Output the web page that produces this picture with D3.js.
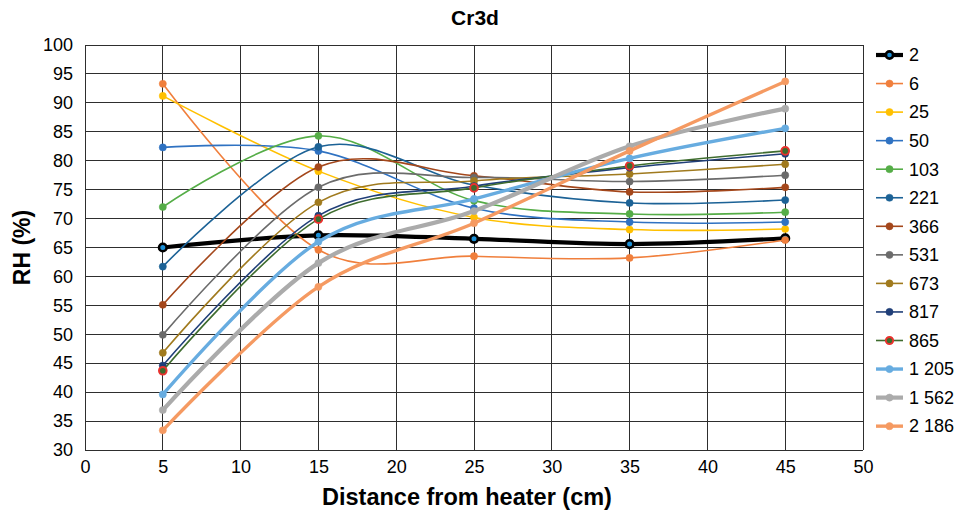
<!DOCTYPE html>
<html>
<head>
<meta charset="utf-8">
<style>
  body { margin: 0; background: #fff; font-family: "Liberation Sans", Arial, sans-serif; }
  svg { display: block; }
</style>
</head>
<body>
<svg id="chart" width="960" height="515"></svg>
<script src="https://cdn.jsdelivr.net/npm/d3@7"></script>
<script>
// data
var distances = [5, 15, 25, 35, 45];
var seriesNames = ["2", "6", "25", "50", "103", "221", "366", "531", "673", "817", "865", "1 205", "1 562", "2 186"];
var rh2    = [65.0, 67.1, 66.5, 65.6, 66.6];
var rh6    = [93.3, 64.6, 63.5, 63.2, 66.3];
var rh25   = [91.2, 78.2, 70.2, 68.1, 68.2];
var rh50   = [82.3, 81.7, 71.8, 69.4, 69.4];
var rh103  = [72.0, 84.3, 73.1, 70.8, 71.1];
var rh221  = [61.7, 82.4, 75.8, 72.7, 73.2];
var rh366  = [55.1, 78.9, 77.4, 74.6, 75.4];
var rh531  = [49.9, 75.4, 77.1, 76.4, 77.5];
var rh673  = [46.8, 72.8, 76.5, 77.7, 79.4];
var rh817  = [44.6, 70.5, 75.6, 78.8, 81.2];
var rh865  = [43.7, 69.9, 75.3, 79.1, 81.7];
var rh1205 = [39.6, 66.0, 73.4, 80.4, 85.6];
var rh1562 = [36.9, 62.3, 71.3, 82.5, 89.0];
var rh2186 = [33.4, 58.2, 69.2, 81.7, 93.7];
var xTicks = d3.range(0, 55, 5);
var yTicks = d3.range(30, 105, 5);

var allValues = [rh2, rh6, rh25, rh50, rh103, rh221, rh366, rh531, rh673, rh817, rh865, rh1205, rh1562, rh2186];

// styles per series (line colour, marker fill, marker stroke, line width)
var lineColors = ["#000000", "#F07F3C", "#FFC000", "#2F72C2", "#55AD47", "#1C6296", "#A4471B", "#6B6B6B", "#A07A1E", "#203F78", "#3E6C2E", "#67ACE0", "#ABABAB", "#F59A62"];
var markerFill = lineColors.slice();
markerFill[0] = "#1B8FD6";
var markerStroke = lineColors.slice();
markerStroke[10] = "#E8322E";
var lineWidths = [4.2, 1.6, 1.6, 1.6, 1.6, 1.6, 1.6, 1.6, 1.6, 1.6, 1.6, 3.4, 4.2, 3.4];

var svg = d3.select("#chart");
var margin = { top: 45, left: 85, right: 97, bottom: 65 };
var width = 960, height = 515;
var fontFam = "Liberation Sans, Arial, sans-serif";

var xScale = d3.scaleLinear().domain([0, 50]).range([margin.left, width - margin.right]);
var yScale = d3.scaleLinear().domain([30, 100]).range([height - margin.bottom, margin.top]);

// grid
var grid = svg.append("g").attr("shape-rendering", "crispEdges");
grid.selectAll("line.h").data(yTicks).enter().append("line")
  .attr("x1", xScale(0)).attr("x2", xScale(50))
  .attr("y1", function(d){ return yScale(d); })
  .attr("y2", function(d){ return yScale(d); })
  .attr("stroke", "#2e2e2e").attr("stroke-width", 1);
grid.selectAll("line.v").data(xTicks).enter().append("line")
  .attr("y1", yScale(30)).attr("y2", yScale(100))
  .attr("x1", function(d){ return xScale(d); })
  .attr("x2", function(d){ return xScale(d); })
  .attr("stroke", "#2e2e2e").attr("stroke-width", 1);

// axes (labels only, grid draws the lines)
var xAxis = d3.axisBottom(xScale).tickValues(xTicks).tickSize(0).tickPadding(10);
svg.append("g").attr("transform", "translate(0," + yScale(30) + ")").call(xAxis)
  .call(function(g){ g.select(".domain").remove(); })
  .selectAll("text").attr("font-size", "18px").attr("fill", "#000")
  .attr("font-family", fontFam);

var yAxis = d3.axisLeft(yScale).tickValues(yTicks).tickSize(0).tickPadding(12);
svg.append("g").attr("transform", "translate(" + xScale(0) + ",0)").call(yAxis)
  .call(function(g){ g.select(".domain").remove(); })
  .selectAll("text").attr("font-size", "18px").attr("fill", "#000")
  .attr("font-family", fontFam);

// series
var line = d3.line()
  .x(function(d, i){ return xScale(distances[i]); })
  .y(function(d){ return yScale(d); })
  .curve(d3.curveCatmullRom.alpha(0));

allValues.forEach(function(vals, s){
  var g = svg.append("g");
  g.append("path").datum(vals)
    .attr("d", line)
    .attr("fill", "none")
    .attr("stroke", lineColors[s])
    .attr("stroke-width", lineWidths[s])
    .attr("stroke-linejoin", "round");
  g.selectAll("circle").data(vals).enter().append("circle")
    .attr("cx", function(d, i){ return xScale(distances[i]); })
    .attr("cy", function(d){ return yScale(d); })
    .attr("r", s === 0 || s === 10 ? 3.8 : 3.6)
    .attr("fill", markerFill[s])
    .attr("stroke", markerStroke[s])
    .attr("stroke-width", s === 0 ? 2.6 : (s === 10 ? 2 : 0.5));
});

// legend
var legend = svg.append("g");
seriesNames.forEach(function(name, s){
  var y = 55 + s * 28.55;
  legend.append("line")
    .attr("x1", 876).attr("x2", 903).attr("y1", y).attr("y2", y)
    .attr("stroke", lineColors[s]).attr("stroke-width", lineWidths[s]);
  legend.append("circle")
    .attr("cx", 889.5).attr("cy", y).attr("r", 3.6)
    .attr("fill", markerFill[s]).attr("stroke", markerStroke[s])
    .attr("stroke-width", s === 0 ? 2.6 : (s === 10 ? 2 : 0.5));
  legend.append("text")
    .attr("x", 909).attr("y", y).attr("dy", "0.35em")
    .attr("font-size", "18px").attr("fill", "#000")
    .text(name);
});

// title & axis labels
svg.append("text")
  .attr("x", 475).attr("y", 25)
  .attr("text-anchor", "middle").attr("font-size", "21px").attr("font-weight", "bold")
  .text("Cr3d");
svg.append("text")
  .attr("x", 467).attr("y", 505)
  .attr("text-anchor", "middle").attr("font-size", "23.5px").attr("font-weight", "bold")
  .text("Distance from heater (cm)");
svg.append("text")
  .attr("transform", "translate(30," + ((yScale(30) + yScale(100)) / 2) + ") rotate(-90)")
  .attr("text-anchor", "middle").attr("font-size", "23px").attr("font-weight", "bold")
  .text("RH (%)");
</script>
</body>
</html>
